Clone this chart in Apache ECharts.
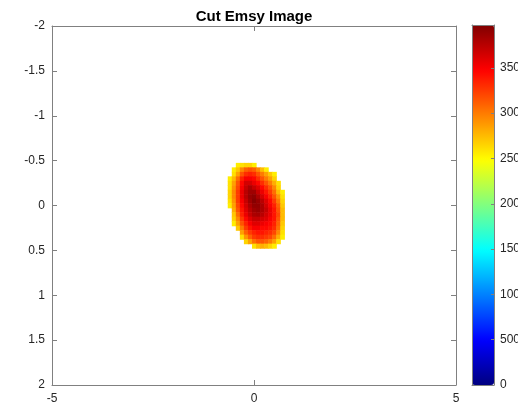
<!DOCTYPE html>
<html>
<head>
<meta charset="utf-8">
<script src="https://cdn.jsdelivr.net/npm/echarts@6/dist/echarts.min.js"></script>
<style>
html,body{margin:0;padding:0;background:#fff;}
#chart{width:518px;height:408px;}
</style>
</head>
<body>
<div id="chart"></div>
<script>
// Grid cell centres (data units)
var xCenters = [-0.6,-0.5,-0.4,-0.3,-0.2,-0.1,0,0.1,0.2,0.3,0.4,0.5,0.6,0.7];
var yCenters = [-0.45,-0.4,-0.35,-0.3,-0.25,-0.2,-0.15,-0.1,-0.05,0,0.05,0.1,0.15,0.2,0.25,0.3,0.35,0.4,0.45];
// Cut image values (null = cut away / blank)
var zRows = [
  [null,null,2550,2600,2650,2650,2550,null,null,null,null,null,null,null],
  [null,2550,2700,2950,3100,3150,3100,2950,2750,2550,null,null,null,null],
  [null,2600,2850,3150,3300,3350,3300,3150,3000,2850,2700,2550,null,null],
  [2550,2750,3050,3350,3500,3500,3450,3300,3150,3000,2850,2650,null,null],
  [2600,2850,3150,3450,3650,3650,3550,3450,3300,3150,3000,2800,2600,null],
  [2600,2900,3200,3500,3700,3800,3700,3600,3450,3300,3150,2950,2650,null],
  [2650,2950,3250,3550,3750,3850,3850,3700,3550,3400,3250,3050,2750,2550],
  [2650,2950,3250,3550,3750,3880,3920,3800,3650,3500,3350,3150,2900,2600],
  [2600,2900,3250,3500,3700,3850,3950,3880,3750,3600,3450,3250,3000,2650],
  [2550,2850,3200,3450,3650,3800,3900,3900,3800,3650,3500,3350,3100,2700],
  [null,2800,3150,3400,3600,3750,3850,3880,3800,3700,3550,3400,3150,2750],
  [null,2700,3050,3350,3550,3700,3800,3820,3750,3650,3550,3400,3200,2750],
  [null,2650,2950,3250,3450,3600,3700,3700,3650,3600,3500,3400,3150,2750],
  [null,2550,2850,3150,3350,3500,3600,3600,3550,3500,3450,3350,3100,2700],
  [null,null,2700,3000,3250,3400,3500,3500,3450,3450,3400,3300,3050,2650],
  [null,null,null,2850,3100,3250,3350,3400,3400,3350,3300,3200,2950,2600],
  [null,null,null,2600,2900,3100,3250,3300,3300,3250,3200,3050,2800,2550],
  [null,null,null,null,2650,2850,3050,3150,3150,3100,3000,2850,2600,null],
  [null,null,null,null,null,null,2600,2750,2800,2750,2650,2550,null,null]
];
var xTicks = [-5, 0, 5];
var yTicks = [-2, -1.5, -1, -0.5, 0, 0.5, 1, 1.5, 2];
var cbTicks = [0, 500, 1000, 1500, 2000, 2500, 3000, 3500];
var cbMin = 0, cbMax = 3973;
var jetColors = ['#000080','#0000FF','#0080FF','#00FFFF','#80FF80','#FFFF00','#FF8000','#FF0000','#800000'];

var cellW = 0.1, cellH = 0.05;
var data = [];
for (var r = 0; r < zRows.length; r++) {
  for (var c = 0; c < zRows[r].length; c++) {
    if (zRows[r][c] != null) data.push([xCenters[c], yCenters[r], zRows[r][c]]);
  }
}

var axisColor = '#808080';
var textColor = '#262626';
var font = '"Liberation Sans", Arial, Helvetica, sans-serif';
var plainFmt = function (v) { return String(v); };

var chart = echarts.init(document.getElementById('chart'), null, {renderer: 'canvas'});
chart.setOption({
  animation: false,
  backgroundColor: '#ffffff',
  title: {
    text: 'Cut Emsy Image',
    left: 254, textAlign: 'center', top: 9, padding: 0,
    textStyle: {fontFamily: font, fontWeight: 'bold', fontSize: 15, color: '#000'}
  },
  grid: [
    {left: 52, top: 26, width: 404, height: 359, show: false, containLabel: false, outerBoundsMode: 'none'},
    {left: 472, top: 25, width: 22, height: 360, show: false, containLabel: false, outerBoundsMode: 'none'}
  ],
  xAxis: [
    {gridIndex: 0, type: 'value', min: -5, max: 5, position: 'bottom',
     axisLine: {show: true, onZero: false, lineStyle: {color: axisColor, width: 1}},
     axisTick: {show: true, inside: true, length: 5, customValues: xTicks, lineStyle: {color: axisColor}},
     axisLabel: {show: true, customValues: xTicks, margin: 8, color: textColor, fontSize: 12, fontFamily: font, formatter: plainFmt},
     splitLine: {show: false}},
    {gridIndex: 0, type: 'value', min: -5, max: 5, position: 'top',
     axisLine: {show: true, onZero: false, lineStyle: {color: axisColor, width: 1}},
     axisTick: {show: true, inside: true, length: 5, customValues: xTicks, lineStyle: {color: axisColor}},
     axisLabel: {show: false}, splitLine: {show: false}},
    {gridIndex: 1, type: 'value', min: 0, max: 1, position: 'bottom',
     axisLine: {show: true, onZero: false, lineStyle: {color: axisColor}}, axisTick: {show: false}, axisLabel: {show: false}, splitLine: {show: false}, z: 10},
    {gridIndex: 1, type: 'value', min: 0, max: 1, position: 'top',
     axisLine: {show: true, onZero: false, lineStyle: {color: axisColor}}, axisTick: {show: false}, axisLabel: {show: false}, splitLine: {show: false}, z: 10}
  ],
  yAxis: [
    {gridIndex: 0, type: 'value', min: -2, max: 2, inverse: true, position: 'left',
     axisLine: {show: true, onZero: false, lineStyle: {color: axisColor, width: 1}},
     axisTick: {show: true, inside: true, length: 5, customValues: yTicks, lineStyle: {color: axisColor}},
     axisLabel: {show: true, customValues: yTicks, margin: 7, color: textColor, fontSize: 12, fontFamily: font, formatter: plainFmt},
     splitLine: {show: false}},
    {gridIndex: 0, type: 'value', min: -2, max: 2, inverse: true, position: 'right',
     axisLine: {show: true, onZero: false, lineStyle: {color: axisColor, width: 1}},
     axisTick: {show: true, inside: true, length: 5, customValues: yTicks, lineStyle: {color: axisColor}},
     axisLabel: {show: false}, splitLine: {show: false}},
    {gridIndex: 1, type: 'value', min: cbMin, max: cbMax, position: 'right',
     axisLine: {show: true, onZero: false, lineStyle: {color: axisColor}},
     axisTick: {show: true, inside: true, length: 3, customValues: cbTicks, lineStyle: {color: axisColor}},
     axisLabel: {show: true, customValues: cbTicks, margin: 6, color: textColor, fontSize: 12, fontFamily: font, formatter: plainFmt},
     splitLine: {show: false}, z: 10},
    {gridIndex: 1, type: 'value', min: cbMin, max: cbMax, position: 'left',
     axisLine: {show: true, onZero: false, lineStyle: {color: axisColor}},
     axisTick: {show: false}, axisLabel: {show: false}, splitLine: {show: false}, z: 10}
  ],
  visualMap: {
    type: 'continuous', min: cbMin, max: cbMax, dimension: 2, seriesIndex: 0,
    calculable: false, realtime: false, hoverLink: false, text: null, showLabel: false,
    orient: 'vertical', left: 472, top: 25, itemWidth: 22, itemHeight: 360, padding: 0,
    inRange: {color: jetColors}
  },
  series: [{
    type: 'custom',
    coordinateSystem: 'cartesian2d', xAxisIndex: 0, yAxisIndex: 0,
    data: data,
    encode: {x: 0, y: 1},
    clip: true,
    renderItem: function (params, api) {
      var x = api.value(0), y = api.value(1);
      var p0 = api.coord([x - cellW / 2, y - cellH / 2]);
      var p1 = api.coord([x + cellW / 2, y + cellH / 2]);
      return {
        type: 'rect',
        shape: {
          x: Math.min(p0[0], p1[0]), y: Math.min(p0[1], p1[1]),
          width: Math.abs(p1[0] - p0[0]) + 0.6, height: Math.abs(p1[1] - p0[1]) + 0.6
        },
        style: {fill: api.visual('color')}
      };
    }
  }]
});
</script>
</body>
</html>
